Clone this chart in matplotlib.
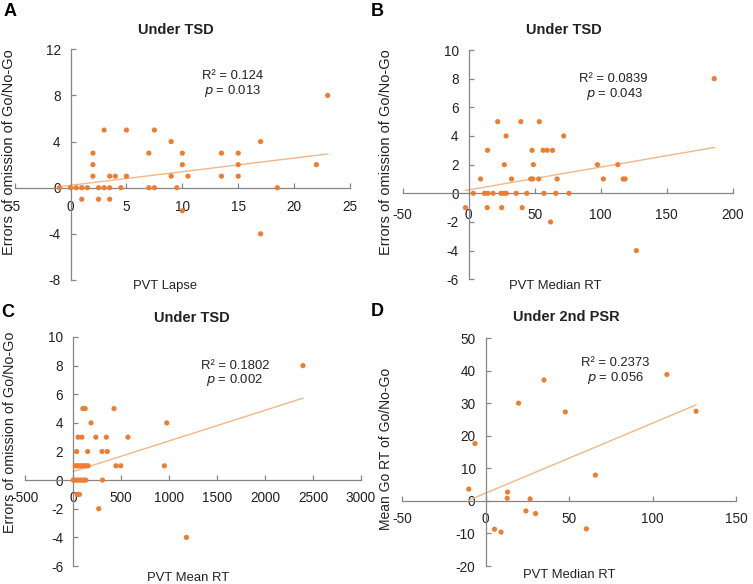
import matplotlib
matplotlib.use("Agg")
import matplotlib.pyplot as plt
import numpy as np

plt.rcParams['font.family'] = ['Liberation Sans', 'DejaVu Sans']

W, H = 753, 584

# ---------------- data ----------------
# Panel A: PVT Lapse vs errors of omission (Under TSD)
a_x = [-1, 0, 0.5, 1, 1.5, 2.5, 3, 3.5, 4.5, 7, 7.5, 9.5, 18.5,
       1, 2.5, 3.5,
       2, 2, 2,
       3, 5, 7.5,
       3.5, 4, 5,
       7, 9, 9,
       10, 10, 10.5, 10,
       13.5, 13.5,
       15, 15, 15,
       17, 17, 22, 23]
a_y = [0, 0, 0, 0, 0, 0, 0, 0, 0, 0, 0, 0, 0,
       -1, -1, -1,
       1, 2, 3,
       5, 5, 5,
       1, 1, 1,
       3, 4, 1,
       3, 2, 1, -2,
       3, 1,
       3, 2, 1,
       4, -4, 2, 8]
a_trend_x = [-1, 23]
a_trend = [0.118, 0.21]  # slope, intercept

# Panel B: PVT Median RT vs errors of omission (Under TSD)
b_x = [3.5, 12, 14.5, 18.5, 24.5, 26.5, 28.5, 36, 44, 57, 66, 76,
       -2.5, 14, 25, 40.5,
       9, 32.5, 47, 48.5, 53, 67, 102, 117, 118.5,
       27, 49, 97.5, 113,
       14.3, 48, 56.4, 59.4, 63.5,
       28.3, 72,
       22, 39.5, 53.5,
       62, 127, 186]
b_y = [0, 0, 0, 0, 0, 0, 0, 0, 0, 0, 0, 0,
       -1, -1, -1, -1,
       1, 1, 1, 1, 1, 1, 1, 1, 1,
       2, 2, 2, 2,
       3, 3, 3, 3, 3,
       4, 4,
       5, 5, 5,
       -2, -4, 8]
b_trend_x = [-2.5, 186]
b_trend = [0.0159, 0.24]

# Panel C: PVT Mean RT vs errors of omission (Under TSD)
c_x = [2395, 1180,
       100, 125, 425,
       185, 975,
       50, 90, 235, 345, 570,
       35, 150, 300, 355,
       20, 40, 60, 80, 100, 120, 140, 155, 445, 495, 950,
       0, 10, 30, 50, 70, 90, 110, 130, 305,
       40, 65, 265]
c_y = [8, -4,
       5, 5, 5,
       4, 4,
       3, 3, 3, 3, 3,
       2, 2, 2, 2,
       1, 1, 1, 1, 1, 1, 1, 1, 1, 1, 1,
       0, 0, 0, 0, 0, 0, 0, 0, 0,
       -1, -1, -2]
c_trend_x = [0, 2395]
c_trend = [0.00214, 0.6]

# Panel D: PVT Median RT vs mean Go RT (Under 2nd PSR)
d_x = [-10, -6.3, 5.4, 9.3, 13.2, 13, 19.8, 24.2, 26.7, 30, 35, 47.8, 60.4, 65.8, 108.6, 126.1]
d_y = [3.6, 17.6, -8.7, -9.6, 2.7, 0.8, 30.0, -3.1, 0.6, -3.9, 37.1, 27.3, -8.6, 7.9, 38.8, 27.5]
d_trend_x = [-10, 126]
d_trend = [0.215, 2.35]

panels = [
    dict(letter="A", title="Under TSD", x=a_x, y=a_y, tx=a_trend_x, tr=a_trend,
         xlim=(-5, 25), ylim=(-8, 12), xt=np.arange(-5, 26, 5), yt=np.arange(-8, 13, 4),
         px=(14.7, 350, 49.3, 280), xlabel="PVT Lapse", ylabel="Errors of omission of Go/No-Go",
         r2="R² = 0.124", p="0.013", xpad=8.5, ylfs=10.5,
         title_pos=(176, 30.5), letter_pos=(10, 11), r2_pos=(233, 76), p_pos=(233, 91),
         xlabel_pos=(165, 286.5), ylabel_pos=(9, 152)),
    dict(letter="B", title="Under TSD", x=b_x, y=b_y, tx=b_trend_x, tr=b_trend,
         xlim=(-50, 200), ylim=(-6, 10), xt=np.arange(-50, 201, 50), yt=np.arange(-6, 11, 2),
         px=(402.7, 732.7, 50, 279.3), xlabel="PVT Median RT", ylabel="Errors of omission of Go/No-Go",
         r2="R² = 0.0839", p="0.043", xpad=10.5, ylfs=10.5,
         title_pos=(564, 30), letter_pos=(377, 11), r2_pos=(613, 79), p_pos=(615, 93.5),
         xlabel_pos=(555, 286), ylabel_pos=(386, 152.5)),
    dict(letter="C", title="Under TSD", x=c_x, y=c_y, tx=c_trend_x, tr=c_trend,
         xlim=(-500, 3000), ylim=(-6, 10), xt=np.arange(-500, 3001, 500), yt=np.arange(-6, 11, 2),
         px=(25.3, 361, 337, 566), xlabel="PVT Mean RT", ylabel="Errors of omission of Go/No-Go",
         r2="R² = 0.1802", p="0.002", xpad=7.5, ylfs=10.3,
         title_pos=(191.5, 318.5), letter_pos=(8, 312.5), r2_pos=(235, 366), p_pos=(235, 380.5),
         xlabel_pos=(188, 578), ylabel_pos=(10, 432)),
    dict(letter="D", title="Under 2nd PSR", x=d_x, y=d_y, tx=d_trend_x, tr=d_trend,
         xlim=(-50, 150), ylim=(-20, 50), xt=np.arange(-50, 151, 50), yt=np.arange(-20, 51, 10),
         px=(402, 736, 338, 566), xlabel="PVT Median RT", ylabel="Mean Go RT of Go/No-Go",
         r2="R² = 0.2373", p="0.056", xpad=8, ylfs=10.0,
         title_pos=(566, 317), letter_pos=(377, 311), r2_pos=(615, 363), p_pos=(616, 377.5),
         xlabel_pos=(569, 574.5), ylabel_pos=(386, 449)),
]

DOT = "#ED7D31"
TREND = "#F2B789"
AXC = "#868686"
TXT = "#222222"

fig = plt.figure(figsize=(W / 100, H / 100), dpi=100)


def fx(x):
    return x / W


def fy(y):
    return 1 - y / H


for p in panels:
    x0, x1, yt, yb = p["px"]
    ax = fig.add_axes([fx(x0), fy(yb), (x1 - x0) / W, (yb - yt) / H])
    ax.set_xlim(*p["xlim"])
    ax.set_ylim(*p["ylim"])
    for s in ("top", "right"):
        ax.spines[s].set_visible(False)
    for s in ("left", "bottom"):
        ax.spines[s].set_position(("data", 0))
        ax.spines[s].set_color(AXC)
        ax.spines[s].set_linewidth(0.9)
    ax.set_xticks(p["xt"])
    ax.set_yticks(p["yt"])
    ax.set_xticklabels([f"{v:g}" for v in p["xt"]])
    ax.set_yticklabels([f"{v:g}" for v in p["yt"]])
    ax.tick_params(direction="in", length=3.5, width=0.9, color=AXC,
                   labelsize=9.8, labelcolor=TXT)
    ax.tick_params(axis="x", pad=p["xpad"])
    ax.tick_params(axis="y", pad=7.2)
    ax.patch.set_alpha(0)

    tx = np.array(p["tx"], dtype=float)
    ax.plot(tx, p["tr"][0] * tx + p["tr"][1], color=TREND, lw=1.0, zorder=2)
    ax.scatter(p["x"], p["y"], s=14, color=DOT, edgecolors="none", zorder=3, clip_on=False)

    fig.text(fx(p["title_pos"][0]), fy(p["title_pos"][1]), p["title"], ha="center", va="center",
             fontsize=10.5, fontweight="bold", color=TXT)
    fig.text(fx(p["letter_pos"][0]), fy(p["letter_pos"][1]), p["letter"], ha="center", va="center",
             fontsize=13, fontweight="bold", color="black")
    fig.text(fx(p["r2_pos"][0]), fy(p["r2_pos"][1]), p["r2"], ha="center", va="center",
             fontsize=9.4, color=TXT)
    fig.text(fx(p["p_pos"][0]), fy(p["p_pos"][1]), r"$\it{p}$ = " + p["p"], ha="center", va="center",
             fontsize=9.4, color=TXT)
    fig.text(fx(p["xlabel_pos"][0]), fy(p["xlabel_pos"][1]), p["xlabel"], ha="center", va="center",
             fontsize=9.4, color=TXT)
    fig.text(fx(p["ylabel_pos"][0]), fy(p["ylabel_pos"][1]), p["ylabel"], ha="center", va="center",
             rotation=90, fontsize=p["ylfs"], color=TXT)

fig.savefig("out.png", dpi=100)
